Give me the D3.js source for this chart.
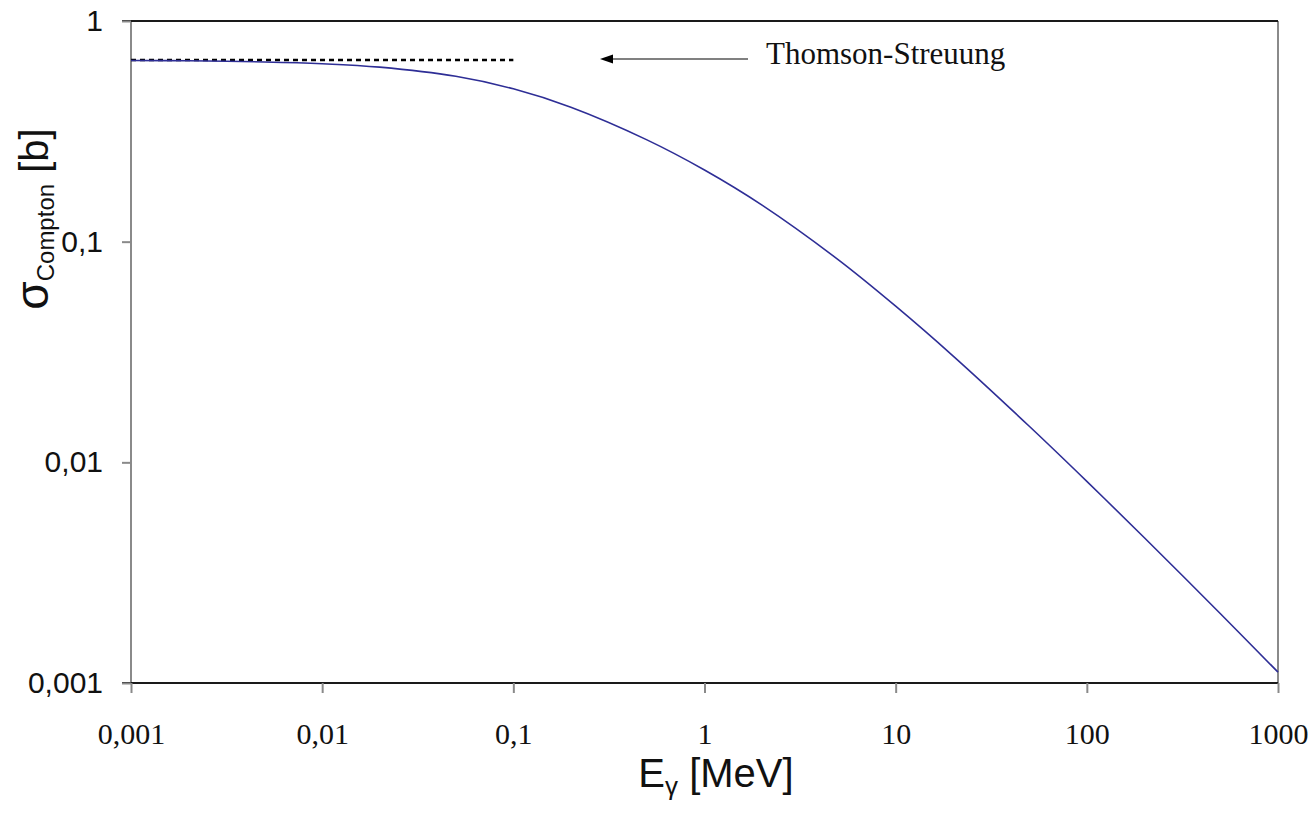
<!DOCTYPE html>
<html>
<head>
<meta charset="utf-8">
<script src="https://cdn.jsdelivr.net/npm/d3@7"></script>
<style>
  html, body { margin: 0; padding: 0; background: #fff; }
  svg { display: block; }
</style>
</head>
<body>
<svg id="chart" width="1313" height="814"></svg>
<script>
// Photon energy E_gamma [MeV]
const energies = [0.001, 0.002, 0.005, 0.01, 0.02, 0.05, 0.1, 0.2, 0.5, 1, 2, 5, 10, 20, 50, 100, 200, 500, 1000];
// Compton cross section per electron [b]
const sigmaCompton = [0.6627, 0.6600, 0.6524, 0.6403, 0.6178, 0.5615, 0.4927, 0.4065, 0.2892, 0.2112, 0.1464, 0.0829, 0.0510, 0.0303, 0.01457, 0.0082, 0.00455, 0.00206, 0.00112];
// Thomson limit (dashed reference line)
const thomsonX = [0.001, 0.1];
const thomsonY = [0.665, 0.665];
const xTicks = [0.001, 0.01, 0.1, 1, 10, 100, 1000];
const xTickLabels = ["0,001", "0,01", "0,1", "1", "10", "100", "1000"];
const yTicks = [0.001, 0.01, 0.1, 1];
const yTickLabels = ["0,001", "0,01", "0,1", "1"];

const svg = d3.select("#chart");
const L = 131, R = 1278, T = 21, B = 683;
const x = d3.scaleLog().domain([0.001, 1000]).range([L, R]);
const y = d3.scaleLog().domain([0.001, 1]).range([B, T]);

// frame
svg.append("line").attr("x1", L).attr("x2", L).attr("y1", T).attr("y2", B)
  .attr("stroke", "#8a8a8a").attr("stroke-width", 2);
svg.append("line").attr("x1", R).attr("x2", R).attr("y1", T).attr("y2", B)
  .attr("stroke", "#8a8a8a").attr("stroke-width", 2);
svg.append("line").attr("x1", L - 9).attr("x2", R).attr("y1", T).attr("y2", T)
  .attr("stroke", "#1a1a1a").attr("stroke-width", 2);
svg.append("line").attr("x1", L - 9).attr("x2", R).attr("y1", B).attr("y2", B)
  .attr("stroke", "#1a1a1a").attr("stroke-width", 2);

// x axis
const xAxis = d3.axisBottom(x).tickValues(xTicks)
  .tickFormat((d, i) => xTickLabels[i]).tickSizeInner(10).tickSizeOuter(0).tickPadding(30);
const gx = svg.append("g").attr("transform", `translate(0,${B})`).call(xAxis);
gx.select(".domain").remove();
gx.selectAll(".tick line").attr("stroke", "#8a8a8a").attr("stroke-width", 2);
gx.selectAll(".tick text").attr("font-family", "'Liberation Serif', 'Times New Roman', serif")
  .attr("font-size", 30).attr("fill", "#111").attr("dy", "0.71em");

// y axis
const yAxis = d3.axisLeft(y).tickValues(yTicks)
  .tickFormat((d, i) => yTickLabels[i]).tickSizeInner(9).tickSizeOuter(0).tickPadding(19);
const gy = svg.append("g").attr("transform", `translate(${L},0)`).call(yAxis);
gy.select(".domain").remove();
gy.selectAll(".tick line").attr("stroke", "#8a8a8a").attr("stroke-width", 2);
gy.selectAll(".tick text").attr("font-family", "'Liberation Sans', Arial, sans-serif")
  .attr("font-size", 30).attr("fill", "#111");

// Thomson dashed line
const dashData = thomsonX.map((d, i) => [d, thomsonY[i]]);
svg.append("path").datum(dashData)
  .attr("d", d3.line().x(d => x(d[0])).y(d => y(d[1])))
  .attr("fill", "none").attr("stroke", "#000").attr("stroke-width", 2.5)
  .attr("stroke-dasharray", "5,4");

// curve
const data = energies.map((e, i) => [e, sigmaCompton[i]]);
svg.append("path").datum(data)
  .attr("d", d3.line().x(d => x(d[0])).y(d => y(d[1])).curve(d3.curveCatmullRom.alpha(0.5)))
  .attr("fill", "none").attr("stroke", "#2e2e96").attr("stroke-width", 1.6);

// annotation arrow + text
svg.append("line").attr("x1", 612).attr("x2", 748).attr("y1", 59).attr("y2", 59)
  .attr("stroke", "#808080").attr("stroke-width", 2);
svg.append("path").attr("d", "M600,59 L613,54.5 L613,63.5 Z").attr("fill", "#000");
svg.append("text").attr("x", 766).attr("y", 64)
  .attr("font-family", "'Liberation Serif', 'Times New Roman', serif")
  .attr("font-size", 31).attr("fill", "#111").text("Thomson-Streuung");

// x title
const xt = svg.append("text").attr("x", 716).attr("y", 787).attr("text-anchor", "middle")
  .attr("font-family", "'Liberation Sans', Arial, sans-serif").attr("font-size", 40).attr("fill", "#111");
xt.append("tspan").text("E");
xt.append("tspan").attr("font-size", 26).attr("dy", 8).text("γ");
xt.append("tspan").attr("dy", -8).text(" [MeV]");

// y title
const yt = svg.append("text").attr("transform", "translate(48,219) rotate(-90)").attr("text-anchor", "middle")
  .attr("font-family", "'Liberation Sans', Arial, sans-serif").attr("font-size", 40).attr("fill", "#111");
yt.append("tspan").attr("font-size", 46).text("σ");
yt.append("tspan").attr("font-size", 24).attr("dy", 6).text("Compton");
yt.append("tspan").attr("dy", -6).text(" [b]");
</script>
</body>
</html>
